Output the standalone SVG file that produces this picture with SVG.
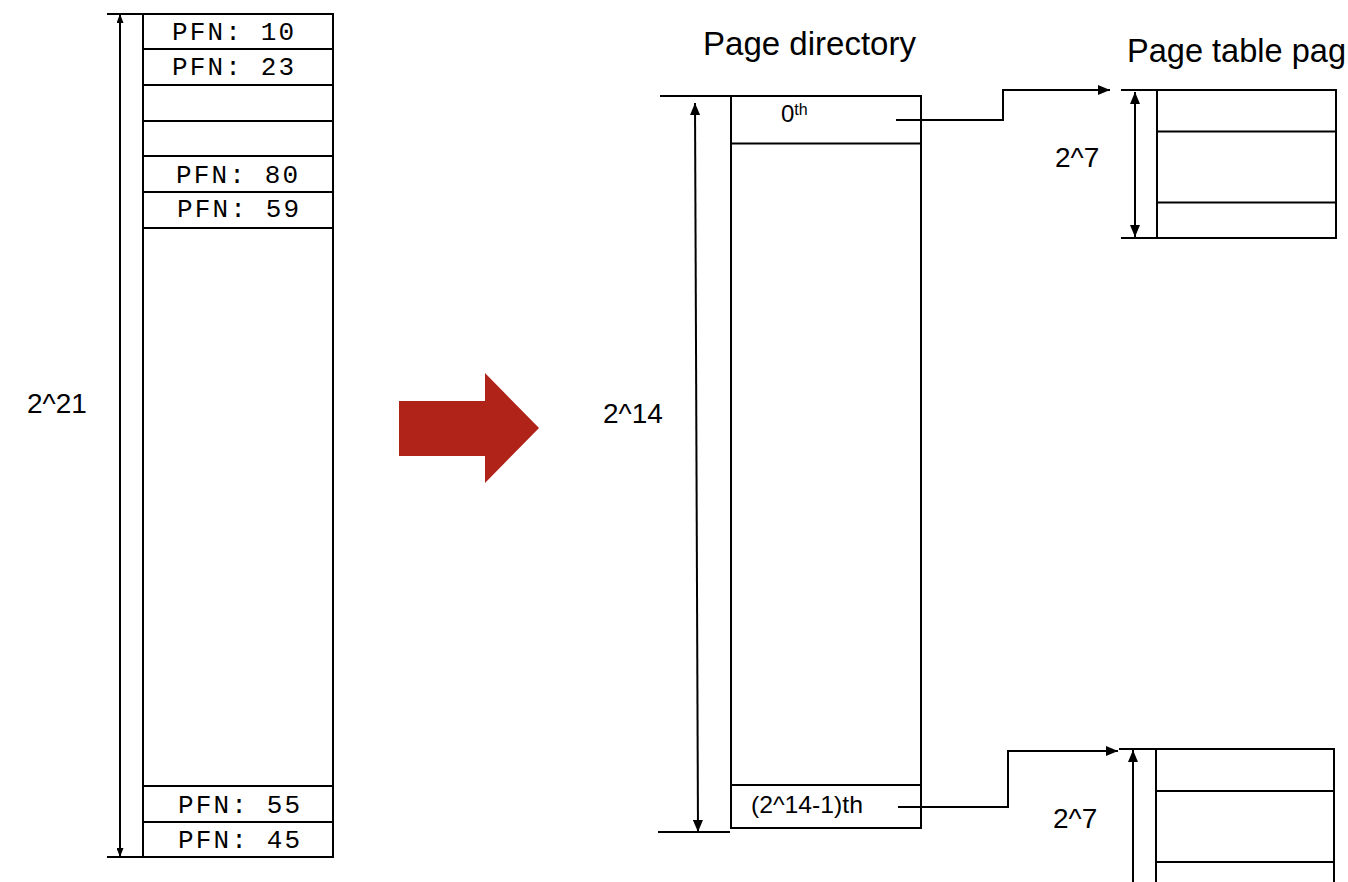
<svg xmlns="http://www.w3.org/2000/svg" width="1348" height="882" viewBox="0 0 1348 882">
<style>
.box{fill:#fff;stroke:#000;stroke-width:2}
.ln{fill:none;stroke:#000;stroke-width:2}
.mono{font-family:"Liberation Mono","Courier New",monospace;font-size:26px;fill:#000}
.sans{font-family:"Liberation Sans",Arial,Helvetica,sans-serif;fill:#000}
</style>
<defs>
<marker id="ah" viewBox="0 0 12 10" markerWidth="12" markerHeight="10" markerUnits="userSpaceOnUse" refX="12" refY="5" orient="auto-start-reverse"><path d="M0,0 L12,5 L0,10 Z" fill="#000"/></marker>
<marker id="ahs" viewBox="0 0 9 7" markerWidth="9" markerHeight="7" markerUnits="userSpaceOnUse" refX="9" refY="3.5" orient="auto-start-reverse"><path d="M0,0 L9,3.5 L0,7 Z" fill="#000"/></marker>
</defs>
<rect width="1348" height="882" fill="#fff"/>

<g id="linear-table">
<rect class="box" x="143" y="14" width="190" height="843"/>
<path class="ln" d="M143,49H333M143,85H333M143,121H333M143,156H333M143,192H333M143,228H333M143,786H333M143,822H333"/>
<text class="mono" x="172" y="40" textLength="122" lengthAdjust="spacing">PFN: 10</text>
<text class="mono" x="172" y="75" textLength="122" lengthAdjust="spacing">PFN: 23</text>
<text class="mono" x="176" y="183" textLength="122" lengthAdjust="spacing">PFN: 80</text>
<text class="mono" x="177" y="217" textLength="122" lengthAdjust="spacing">PFN: 59</text>
<text class="mono" x="178" y="813" textLength="122" lengthAdjust="spacing">PFN: 55</text>
<text class="mono" x="178" y="848" textLength="122" lengthAdjust="spacing">PFN: 45</text>
</g>

<g id="linear-size">
<path class="ln" d="M107,14H143M107,857H143"/>
<line class="ln" x1="120" y1="14" x2="120" y2="857" marker-start="url(#ahs)" marker-end="url(#ahs)"/>
<text class="sans" x="27" y="413" font-size="28">2^21</text>
</g>

<g id="big-arrow">
<polygon points="399,401 485,401 485,373 539,428 485,483 485,456 399,456" fill="#AF2319"/>
</g>

<g id="page-directory">
<text class="sans" x="703" y="55" font-size="33" textLength="213" lengthAdjust="spacingAndGlyphs">Page directory</text>
<rect class="box" x="731" y="96" width="190" height="732"/>
<path class="ln" d="M731,143.5H921M731,785H921"/>
<text class="sans" x="781" y="122" font-size="24">0<tspan font-size="16" dy="-7">th</tspan></text>
<text class="sans" x="751" y="813" font-size="24" textLength="112" lengthAdjust="spacingAndGlyphs">(2^14-1)th</text>
</g>

<g id="directory-size">
<path class="ln" d="M660,96H731M658,832H730"/>
<line class="ln" x1="695" y1="103" x2="698" y2="832" marker-start="url(#ah)" marker-end="url(#ah)"/>
<text class="sans" x="603" y="423" font-size="28">2^14</text>
</g>

<g id="page-table-0">
<text class="sans" x="1127" y="62" font-size="33" textLength="219" lengthAdjust="spacingAndGlyphs">Page table pag</text>
<rect class="box" x="1157" y="90" width="179" height="148"/>
<path class="ln" d="M1157,131.5H1336M1157,202.5H1336"/>
<path class="ln" d="M1121,90H1157M1121,238H1157"/>
<line class="ln" x1="1135" y1="92" x2="1135" y2="237" marker-start="url(#ah)" marker-end="url(#ah)"/>
<text class="sans" x="1055" y="167" font-size="28">2^7</text>
</g>

<g id="page-table-last">
<rect class="box" x="1156" y="749" width="178" height="150"/>
<path class="ln" d="M1156,791H1334M1156,862H1334"/>
<path class="ln" d="M1119,749H1156"/>
<line class="ln" x1="1133" y1="890" x2="1133" y2="750" marker-end="url(#ah)"/>
<text class="sans" x="1053" y="828" font-size="28">2^7</text>
</g>

<g id="connectors">
<polyline class="ln" points="896,120 1003,120 1003,90 1110,90" marker-end="url(#ah)"/>
<polyline class="ln" points="898,807 1008,807 1008,751 1118,751" marker-end="url(#ah)"/>
</g>
</svg>
